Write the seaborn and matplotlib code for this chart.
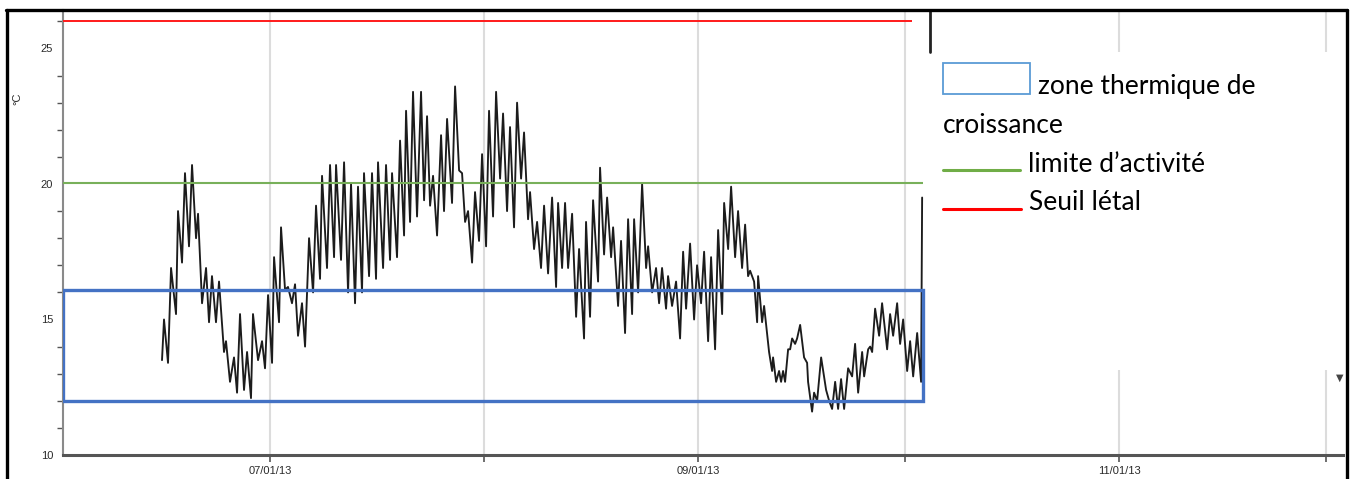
import pandas as pd
import numpy as np
import matplotlib
matplotlib.use("Agg")
import matplotlib.pyplot as plt
import matplotlib.dates as mdates
import matplotlib.ticker as mticker
from matplotlib.patches import Rectangle
from matplotlib.lines import Line2D
import seaborn as sns

# jours depuis le 01/06/2013 et température relevée (°C)
jours = [14.34, 14.63, 15.21, 15.65, 16.37, 16.66, 17.24, 17.67, 18.25, 18.69,
         19.27, 19.56, 20.14, 20.72, 21.15, 21.58, 22.16, 22.60, 23.32, 23.61,
         24.19, 24.77, 25.21, 25.64, 26.22, 26.66, 27.23, 27.52, 28.25, 28.83,
         29.26, 29.70, 30.28, 30.57, 31.29, 31.58, 32.16, 32.59, 33.17, 33.61,
         34.04, 34.62, 35.06, 35.64, 36.22, 36.65, 37.23, 37.52, 38.24, 38.68,
         39.26, 39.55, 40.27, 40.71, 41.29, 41.72, 42.30, 42.73, 43.31, 43.60,
         44.33, 44.76, 45.34, 45.63, 46.36, 46.79, 47.37, 47.66, 48.38, 48.82,
         49.40, 49.69, 50.27, 50.70, 51.28, 51.86, 52.30, 52.73, 53.17, 53.60,
         54.18, 54.76, 55.19, 55.63, 56.35, 56.79, 57.37, 57.80, 58.24, 58.67,
         59.25, 59.68, 60.26, 60.70, 61.28, 61.71, 62.29, 62.73, 63.31, 63.74,
         64.32, 64.75, 65.33, 65.77, 66.35, 66.78, 67.36, 67.65, 68.23, 68.67,
         69.24, 69.68, 70.26, 70.84, 71.42, 71.71, 72.29, 72.72, 73.16, 73.74,
         74.32, 74.75, 75.47, 75.76, 76.34, 76.78, 77.50, 77.79, 78.37, 78.81,
         79.39, 79.68, 80.40, 80.83, 81.41, 81.85, 82.43, 82.72, 83.30, 83.88,
         84.46, 84.75, 85.33, 85.90, 86.34, 86.77, 87.35, 87.64, 88.22, 88.80,
         89.38, 89.82, 90.25, 90.83, 91.41, 91.84, 92.42, 92.86, 93.44, 93.87,
         94.45, 94.89, 95.47, 95.76, 96.34, 96.77, 97.35, 97.78, 98.36, 98.80,
         99.23, 99.52, 100.10, 100.54, 100.68, 101.26, 101.55, 102.27, 102.71, 102.85,
         103.29, 103.72, 104.01, 104.30, 104.59, 105.03, 105.32, 105.61, 106.04, 106.33,
         106.77, 107.34, 107.78, 107.92, 108.50, 108.79, 109.23, 109.81, 110.53, 110.97,
         111.40, 111.84, 112.27, 112.70, 113.14, 113.72, 114.30, 114.73, 115.17, 115.75,
         116.04, 116.62, 116.91, 117.20, 117.63, 118.21, 118.64, 119.37, 119.80, 120.24,
         120.82, 121.25, 121.69, 122.27, 122.70, 123.14, 123.72, 124.29, 124.44]
temperature = [13.5, 15.0, 13.4, 16.9, 15.2, 19.0, 17.1, 20.4, 17.7, 20.7,
               18.0, 18.9, 15.6, 16.9, 14.9, 16.6, 14.9, 16.4, 13.8, 14.2,
               12.7, 13.6, 12.3, 15.2, 12.4, 13.8, 12.1, 15.2, 13.5, 14.2,
               13.2, 15.9, 13.4, 17.3, 14.9, 18.4, 16.1, 16.2, 15.6, 16.3,
               14.4, 15.6, 14.0, 18.0, 16.0, 19.2, 16.5, 20.3, 16.9, 20.7,
               17.3, 20.7, 17.2, 20.8, 16.0, 20.0, 15.6, 19.9, 16.0, 20.4,
               16.6, 20.4, 16.5, 20.8, 16.9, 20.7, 17.2, 20.4, 17.3, 21.6,
               18.1, 22.7, 18.6, 23.4, 18.8, 23.4, 19.4, 22.5, 19.2, 20.3,
               18.1, 21.8, 19.0, 22.4, 19.3, 23.6, 20.5, 20.4, 18.6, 19.0,
               17.1, 19.7, 17.9, 21.1, 17.7, 22.7, 18.8, 23.4, 20.2, 22.6,
               19.0, 22.1, 18.4, 23.0, 20.2, 21.9, 18.7, 19.7, 17.6, 18.6,
               16.9, 19.2, 16.7, 19.5, 16.2, 19.3, 16.9, 19.3, 16.9, 18.9,
               15.1, 17.6, 14.3, 18.6, 15.1, 19.4, 16.4, 20.6, 17.4, 19.5,
               17.3, 18.4, 15.5, 17.9, 14.5, 18.7, 15.2, 18.7, 16.0, 20.0,
               16.9, 17.7, 16.0, 16.9, 15.6, 16.9, 15.4, 16.6, 15.5, 16.4,
               14.3, 17.5, 15.4, 17.8, 15.0, 17.0, 15.6, 17.5, 14.2, 17.3,
               13.9, 18.3, 15.2, 19.3, 17.6, 19.9, 17.3, 19.0, 16.9, 18.5,
               16.6, 16.8, 16.4, 14.9, 16.6, 14.9, 15.5, 13.8, 13.1, 13.6,
               12.7, 13.1, 12.7, 13.1, 12.7, 13.9, 13.9, 14.3, 14.1, 14.3,
               14.8, 13.6, 13.4, 12.7, 11.6, 12.3, 12.0, 13.6, 12.4, 12.0,
               11.7, 12.7, 11.7, 12.8, 11.7, 13.2, 12.9, 14.1, 12.3, 13.8,
               12.9, 13.9, 14.0, 13.8, 15.4, 14.4, 15.6, 13.9, 15.2, 14.4,
               15.6, 14.1, 15.0, 13.1, 14.2, 12.9, 14.5, 12.7, 19.5]

# seuils (°C)
zone_basse = 12.0
zone_haute = 16.1
limite_activite = 20.05
seuil_letal = 26.0

tick_labels = ['07/01/13', '', '09/01/13', '', '11/01/13', '']

debut = pd.Timestamp('2013-06-01')
fin = debut + pd.Timedelta(days=185.4)
fin_rouge = debut + pd.Timedelta(days=123.0)
fin_zone = debut + pd.Timedelta(days=124.6)

df = pd.DataFrame({'date': debut + pd.to_timedelta(jours, unit='D'),
                   'temp': temperature})

sns.set_style("white")
W, H = 1353, 479
fig = plt.figure(figsize=(W / 100, H / 100), dpi=100)
fig.patch.set_facecolor('white')


def fx(px):
    return px / W


def fy(py):
    return 1 - py / H


ax = fig.add_axes([fx(63), fy(455), fx(1343) - fx(63), fy(10) - fy(455)])
ax.set_facecolor('white')

sns.lineplot(data=df, x='date', y='temp', ax=ax, color='#1c1c1c',
             linewidth=1.35, estimator=None, sort=False, zorder=3)

ax.hlines(seuil_letal, debut, fin_rouge, color='#ff1a1a', linewidth=1.4, zorder=4)
ax.hlines(limite_activite, debut, fin_zone, color='#78b05a', linewidth=1.5, zorder=4)
x0 = mdates.date2num(debut)
x1 = mdates.date2num(fin_zone)
ax.add_patch(Rectangle((x0, zone_basse), x1 - x0, zone_haute - zone_basse,
                       fill=False, edgecolor='#4472c4', linewidth=2.4, zorder=5))

ax.set_xlim(debut, fin)
ax.set_ylim(10, 26.42)

mois = pd.date_range('2013-07-01', '2013-12-01', freq='MS')
ax.set_xticks(mois)
ax.set_xticklabels(tick_labels)
ax.xaxis.grid(True, color='#dcdcdc', linewidth=1.5)
ax.yaxis.grid(False)
ax.yaxis.set_major_locator(mticker.MultipleLocator(5))
ax.yaxis.set_minor_locator(mticker.MultipleLocator(1))
ax.tick_params(axis='both', which='major', direction='out', length=5, width=1.2,
               color='#555555', labelsize=8, labelcolor='#2a2a2a', pad=2)
ax.tick_params(axis='y', which='minor', direction='out', length=4, width=1.0,
               color='#555555', left=True)
ax.tick_params(axis='x', bottom=True, pad=3)
for lab in ax.get_xticklabels() + ax.get_yticklabels():
    lab.set_family('Liberation Sans')

ax.set_xlabel('')
ax.set_ylabel('°C', fontsize=8, color='#2a2a2a', family='Liberation Sans')
ax.yaxis.set_label_coords(-0.032, 0.80)

for s in ['top', 'right']:
    ax.spines[s].set_visible(False)
ax.spines['left'].set_color('#8a8a8a')
ax.spines['left'].set_linewidth(1.5)
ax.spines['bottom'].set_color('#555555')
ax.spines['bottom'].set_linewidth(2.2)

# encadré de légende (blanc, par-dessus la grille)
fig.add_artist(Rectangle((fx(930), fy(370)), fx(1346) - fx(930), fy(52) - fy(370),
                         transform=fig.transFigure, facecolor='white',
                         edgecolor='none', zorder=5))
fig.add_artist(Line2D([fx(930), fx(930)], [fy(10), fy(52)], transform=fig.transFigure,
                      color='#222222', linewidth=2, zorder=6))

fig.add_artist(Rectangle((fx(943), fy(94)), fx(1030) - fx(943), fy(63) - fy(94),
                         transform=fig.transFigure, facecolor='white',
                         edgecolor='#5b9bd5', linewidth=1.3, zorder=6))
leg_font = dict(family='Lato', fontsize=19, color='black', zorder=7, va='baseline')
fig.text(fx(1038), fy(94), 'zone thermique de', **leg_font)
fig.text(fx(943), fy(133), 'croissance', **leg_font)
fig.add_artist(Line2D([fx(943), fx(1020)], [fy(170), fy(170)], transform=fig.transFigure,
                      color='#70ad47', linewidth=2.2, zorder=6))
fig.text(fx(1028), fy(172), 'limite d\u2019activité', **leg_font)
fig.add_artist(Line2D([fx(943), fx(1021)], [fy(209), fy(209)], transform=fig.transFigure,
                      color='#ff0000', linewidth=2.2, zorder=6))
fig.text(fx(1029), fy(210), 'Seuil létal', **leg_font)

fig.text(fx(1340), fy(378), '\u25bc', fontsize=7, color='#444444',
         ha='center', va='center', zorder=7)

# cadre noir de la capture
for xs, ys in [([6, 1347], [10, 10]), ([7, 7], [10, 479]), ([1347, 1347], [10, 479])]:
    fig.add_artist(Line2D([fx(v) for v in xs], [fy(v) for v in ys],
                          transform=fig.transFigure, color='black',
                          linewidth=2.4, zorder=8))

fig.savefig('out.png', dpi=100, facecolor='white')
